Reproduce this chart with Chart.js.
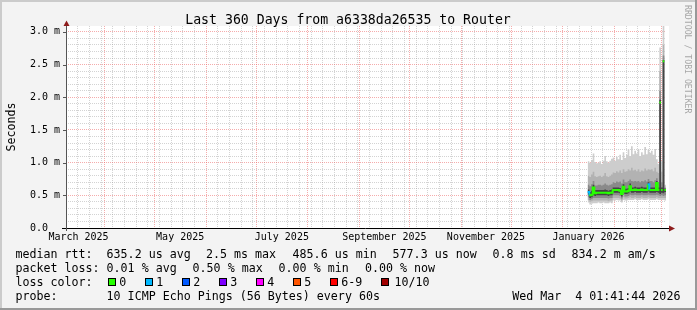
<!DOCTYPE html>
<html><head><meta charset="utf-8">
<script src="https://cdn.jsdelivr.net/npm/chart.js@4.4.1/dist/chart.umd.min.js"></script>
<style>html,body{margin:0;padding:0;background:#f3f3f3;}canvas{display:block;}</style>
</head><body>
<canvas id="c" width="697" height="310"></canvas>
<script>
// ---------- texts ----------
const TITLE = 'Last 360 Days from a6338da26535 to Router';
const Y_TITLE = 'Seconds';
const WATERMARK = 'RRDTOOL / TOBI OETIKER';
const X_LABEL_MONTHS = [[2025,2],[2025,4],[2025,6],[2025,8],[2025,10],[2026,0]];
const X_LABELS = ['March 2025','May 2025','July 2025','September 2025','November 2025','January 2026'];
const RTT_STATS = ['635.2 us avg','2.5 ms max','485.6 us min','577.3 us now','0.8 ms sd','834.2 m am/s'];
const LOSS_STATS = ['0.01 % avg','0.50 % max','0.00 % min','0.00 % now'];
const LOSS_LABELS = ['0','1','2','3','4','5','6-9','10/10'];
const LOSS_COLORS = ['#26ff00','#00b8ff','#0059ff','#7e00ff','#ff00ff','#ff5500','#ff0000','#a10000'];
const PROBE_TEXT = '10 ICMP Echo Pings (56 Bytes) every 60s';
const STAMP = 'Wed Mar  4 01:41:44 2026';

// ---------- data (milliseconds), one sample per day, first sample = day 313 after 9 Mar 2025 ----------
const START_DAY = 313;
const MEDIAN = [0.55,0.50,0.51,0.62,0.53, 0.54,0.54,0.54,0.54,0.54, 0.54,0.54,0.53,0.54,0.54, 0.58,0.58,0.58,0.58,0.57, 0.52,0.63,0.56,0.56,0.57, 0.64,0.58,0.58,0.59,0.58, 0.58,0.58,0.59,0.58,0.58, 0.58,0.67,0.58,0.58,0.58, 0.58,0.69,0.58,1.92,0.58, 2.55,0.58];
const LOSS   = [1,0,0,0,0, 0,0,0,0,0, 0,0,0,0,0, 0,0,0,0,0, 0,0,0,0,0, 0,0,0,0,0, 0,0,0,0,0, 0,1,0,0,0, 0,0,0,0,0, 0,0];
const HI1 = [1.02,1.00,1.04,1.14,1.01, 0.99,1.00,1.02,0.98,1.03, 1.10,1.02,1.00,1.03,1.06, 1.08,1.03,1.09,1.05,1.12, 1.04,1.16,1.07,1.12,1.20, 1.10,1.25,1.13,1.18,1.14, 1.21,1.10,1.16,1.12,1.24, 1.13,1.20,1.15,1.18,1.12, 1.21,1.05,0.98,2.76,1.02, 3.10,0.66];
const HI2 = [0.80,0.78,0.82,0.86,0.79, 0.78,0.79,0.80,0.78,0.80, 0.84,0.79,0.78,0.80,0.82, 0.85,0.84,0.87,0.85,0.88, 0.84,0.90,0.86,0.87,0.90, 0.88,0.92,0.88,0.89,0.87, 0.90,0.86,0.88,0.87,0.91, 0.88,0.90,0.89,0.90,0.87, 0.92,0.86,0.84,2.40,0.86, 2.80,0.63];
const HI3 = [0.66,0.64,0.67,0.72,0.65, 0.65,0.66,0.66,0.65,0.66, 0.68,0.66,0.65,0.66,0.67, 0.70,0.69,0.71,0.70,0.71, 0.68,0.74,0.70,0.70,0.72, 0.74,0.72,0.71,0.72,0.71, 0.72,0.70,0.72,0.71,0.73, 0.71,0.75,0.72,0.72,0.70, 0.73,0.76,0.70,2.10,0.70, 2.64,0.61];
const HI4 = [0.59,0.55,0.57,0.66,0.58, 0.58,0.58,0.58,0.58,0.58, 0.59,0.58,0.57,0.58,0.59, 0.62,0.62,0.62,0.62,0.61, 0.58,0.67,0.60,0.60,0.61, 0.68,0.62,0.62,0.63,0.62, 0.62,0.62,0.63,0.62,0.62, 0.62,0.70,0.62,0.62,0.62, 0.62,0.72,0.62,1.96,0.62, 2.57,0.60];
const LO4 = [0.51,0.46,0.47,0.50,0.49, 0.50,0.50,0.50,0.50,0.50, 0.50,0.50,0.49,0.50,0.50, 0.54,0.54,0.54,0.54,0.53, 0.48,0.55,0.52,0.52,0.53, 0.56,0.54,0.54,0.55,0.54, 0.54,0.54,0.55,0.54,0.54, 0.54,0.56,0.54,0.54,0.54, 0.54,0.55,0.54,0.52,0.54, 0.53,0.55];
const LO3 = [0.47,0.43,0.44,0.46,0.46, 0.46,0.46,0.46,0.46,0.46, 0.46,0.46,0.45,0.46,0.46, 0.50,0.50,0.50,0.50,0.49, 0.45,0.51,0.48,0.48,0.49, 0.51,0.50,0.50,0.51,0.50, 0.50,0.50,0.51,0.50,0.50, 0.50,0.51,0.50,0.50,0.50, 0.50,0.51,0.50,0.49,0.50, 0.49,0.50];
const LO2 = [0.43,0.40,0.41,0.42,0.42, 0.42,0.42,0.42,0.42,0.42, 0.42,0.42,0.41,0.42,0.42, 0.46,0.46,0.46,0.46,0.45, 0.42,0.47,0.45,0.45,0.46, 0.47,0.46,0.46,0.47,0.46, 0.46,0.46,0.47,0.46,0.46, 0.46,0.47,0.46,0.46,0.46, 0.46,0.47,0.46,0.46,0.46, 0.46,0.46];
const LO1 = [0.39,0.36,0.37,0.38,0.38, 0.38,0.39,0.38,0.38,0.39, 0.38,0.38,0.38,0.39,0.38, 0.42,0.42,0.43,0.42,0.42, 0.39,0.43,0.42,0.42,0.43, 0.43,0.43,0.43,0.44,0.43, 0.43,0.43,0.44,0.43,0.43, 0.43,0.44,0.43,0.43,0.43, 0.43,0.44,0.43,0.43,0.43, 0.43,0.42];

// ---------- x axis (days since 9 Mar 2025) ----------
const BASE = Date.UTC(2025,2,9);
const dayOf = (y,m) => (Date.UTC(y,m,1) - BASE) / 86400000;
const MONTH_STARTS = [];
for (let k = 0; k < 12; k++) MONTH_STARTS.push(dayOf(2025, 3 + k));
const WEEKS = [];
for (let d = 7; d < 360; d += 7) if (!MONTH_STARTS.includes(d)) WEEKS.push(d);
const LABEL_POS = X_LABEL_MONTHS.map(([y,m]) => (dayOf(y,m) + dayOf(y,m+1)) / 2);
const X_TICKS = [...new Set([...WEEKS, ...MONTH_STARTS, ...LABEL_POS])].sort((a,b)=>a-b);

const Y_TICKS = [];
for (let k = 0; k <= 30; k++) Y_TICKS.push(k / 10);

const GRID_MINOR = 'rgba(150,150,150,0.42)';
const GRID_MAJOR = 'rgba(235,90,90,0.5)';

function steps(arr) {
  const pts = [];
  arr.forEach((v, i) => { pts.push({x: START_DAY + i, y: v}); pts.push({x: START_DAY + i + 1, y: v}); });
  return pts;
}
function lossIdx(l) { return l <= 5 ? l : (l < 10 ? 6 : 7); }

function band(hi, lo, color) {
  return [
    {data: steps(hi), fill: '+1', backgroundColor: color, borderWidth: 0, borderColor: 'rgba(0,0,0,0)', pointRadius: 0},
    {data: steps(lo), fill: false, borderWidth: 0, borderColor: 'rgba(0,0,0,0)', pointRadius: 0}
  ];
}

const datasets = [
  {data: steps(MEDIAN), fill: false, borderWidth: 2, pointRadius: 0, borderColor: LOSS_COLORS[0],
   segment: { borderColor: c => {
     const a = c.p0.parsed, b = c.p1.parsed;
     if (a.x === b.x && Math.abs(a.y - b.y) > 0.25) return 'rgba(0,0,0,0)';
     return LOSS_COLORS[lossIdx(LOSS[Math.floor(c.p0DataIndex / 2)])];
   }}},
  ...band(HI4, LO4, '#444444'),
  ...band(HI3, LO3, '#8a8a8a'),
  ...band(HI2, LO2, '#b2b2b2'),
  ...band(HI1, LO1, '#cdcdcd')
];

const MONO = '"DejaVu Sans Mono"';
const decor = {
  id: 'decor',
  beforeDraw(chart) {
    const ctx = chart.ctx, a = chart.chartArea;
    ctx.save();
    ctx.fillStyle = '#f3f3f3'; ctx.fillRect(0, 0, 697, 310);
    ctx.fillStyle = '#cbcbcb'; ctx.fillRect(0, 0, 697, 2); ctx.fillRect(0, 0, 2, 310);
    ctx.fillStyle = '#999999'; ctx.fillRect(0, 308, 697, 2); ctx.fillRect(695, 0, 2, 310);
    ctx.fillStyle = '#ffffff'; ctx.fillRect(a.left, a.top, a.right - a.left + 3, a.bottom - a.top);
    ctx.restore();
  },
  afterDraw(chart) {
    const ctx = chart.ctx, a = chart.chartArea, ys = chart.scales.y;
    ctx.save();
    // axes
    ctx.lineWidth = 1;
    ctx.strokeStyle = '#000';
    ctx.beginPath(); ctx.moveTo(62, a.bottom + 0.5); ctx.lineTo(a.right + 3, a.bottom + 0.5); ctx.stroke();
    ctx.strokeStyle = '#555';
    ctx.beginPath(); ctx.moveTo(a.left + 0.5, a.bottom + 3); ctx.lineTo(a.left + 0.5, a.top - 1); ctx.stroke();
    Y_TICKS.forEach(v => {
      if (Math.round(v * 10) % 5 === 0 && v > 0) {
        const py = Math.round(ys.getPixelForValue(v)) + 0.5;
        ctx.beginPath(); ctx.moveTo(a.left - 3, py); ctx.lineTo(a.left, py); ctx.stroke();
      }
    });
    // arrows
    ctx.fillStyle = '#8e1c1c';
    ctx.beginPath(); ctx.moveTo(a.left + 0.5, a.top - 5.5); ctx.lineTo(a.left - 2.5, a.top); ctx.lineTo(a.left + 3.5, a.top); ctx.closePath(); ctx.fill();
    ctx.beginPath(); ctx.moveTo(a.right + 9, a.bottom + 0.5); ctx.lineTo(a.right + 3, a.bottom - 2.5); ctx.lineTo(a.right + 3, a.bottom + 3.5); ctx.closePath(); ctx.fill();

    // title
    ctx.fillStyle = '#000';
    ctx.textBaseline = 'alphabetic';
    ctx.font = '13.2px ' + MONO;
    ctx.textAlign = 'center';
    ctx.fillText(TITLE, 348, 23.5);

    // y title
    ctx.save();
    ctx.font = '11.65px ' + MONO;
    ctx.translate(15, 127); ctx.rotate(-Math.PI / 2);
    ctx.fillText(Y_TITLE, 0, 0);
    ctx.restore();

    // watermark
    ctx.save();
    ctx.fillStyle = '#a6a6a6';
    ctx.font = '8.2px ' + MONO;
    ctx.textAlign = 'left';
    ctx.translate(685, 5); ctx.rotate(Math.PI / 2);
    ctx.fillText(WATERMARK, 0, 0);
    ctx.restore();

    // legend
    ctx.font = '11.65px ' + MONO;
    ctx.textAlign = 'left';
    const rows = [257.5, 271.5, 285.5, 299.5];
    ctx.fillText('median rtt:', 15.5, rows[0]);
    [106.6, 206, 292.6, 392.6, 492.6, 571.6].forEach((x, i) => ctx.fillText(RTT_STATS[i], x, rows[0]));
    ctx.fillText('packet loss:', 15.5, rows[1]);
    [106.6, 192.6, 278.6, 365].forEach((x, i) => ctx.fillText(LOSS_STATS[i], x, rows[1]));
    ctx.fillText('loss color:', 15.5, rows[2]);
    const sw = [108, 145, 182, 219, 256, 293, 330, 381];
    sw.forEach((x, i) => {
      ctx.fillStyle = LOSS_COLORS[i]; ctx.fillRect(x, 278, 8, 8);
      ctx.strokeStyle = '#000'; ctx.strokeRect(x + 0.5, 278.5, 7, 7);
      ctx.fillStyle = '#000';
      ctx.fillText(LOSS_LABELS[i], x + (i === 7 ? 13.5 : 11.3), rows[2]);
    });
    ctx.fillText('probe:', 15.5, rows[3]);
    ctx.fillText(PROBE_TEXT, 106.6, rows[3]);
    ctx.fillText(STAMP, 512.2, rows[3]);
    ctx.restore();
  }
};

new Chart(document.getElementById('c'), {
  type: 'line',
  data: { datasets },
  options: {
    responsive: false, animation: false, devicePixelRatio: 1, events: [],
    layout: { padding: { left: 0, right: 31, top: 26, bottom: 0 } },
    plugins: { legend: { display: false }, title: { display: false }, tooltip: { enabled: false } },
    elements: { line: { tension: 0 } },
    scales: {
      x: {
        type: 'linear', min: 0, max: 360, z: 1,
        afterBuildTicks: s => { s.ticks = X_TICKS.map(v => ({ value: v })); },
        afterFit: s => { s.height = 82; },
        grid: { drawTicks: false, lineWidth: 1,
          color: c => MONTH_STARTS.includes(c.tick.value) ? GRID_MAJOR : (WEEKS.includes(c.tick.value) ? GRID_MINOR : 'rgba(0,0,0,0)') },
        border: { display: false, dash: [1, 1] },
        ticks: { autoSkip: false, maxRotation: 0, minRotation: 0, padding: 3.5, color: '#000',
          font: { family: 'DejaVu Sans Mono', size: 10 },
          callback: v => { const k = LABEL_POS.indexOf(v); return k >= 0 ? X_LABELS[k] : ''; } }
      },
      y: {
        type: 'linear', min: 0, max: 3.09, z: 1,
        afterBuildTicks: s => { s.ticks = Y_TICKS.map(v => ({ value: v })); },
        afterFit: s => { s.width = 66; },
        grid: { drawTicks: false, lineWidth: 1,
          color: c => { const k = Math.round(c.tick.value * 10); return k === 0 ? 'rgba(0,0,0,0)' : (k % 5 === 0 ? GRID_MAJOR : GRID_MINOR); } },
        border: { display: false, dash: [1, 1] },
        ticks: { autoSkip: false, padding: 6, color: '#000', font: { family: 'DejaVu Sans Mono', size: 10 },
          callback: v => { const k = Math.round(v * 10); if (k === 0) return '0.0  '; return k % 5 === 0 ? (k / 10).toFixed(1) + ' m' : ''; } }
      }
    }
  },
  plugins: [decor]
});
</script>
</body></html>
